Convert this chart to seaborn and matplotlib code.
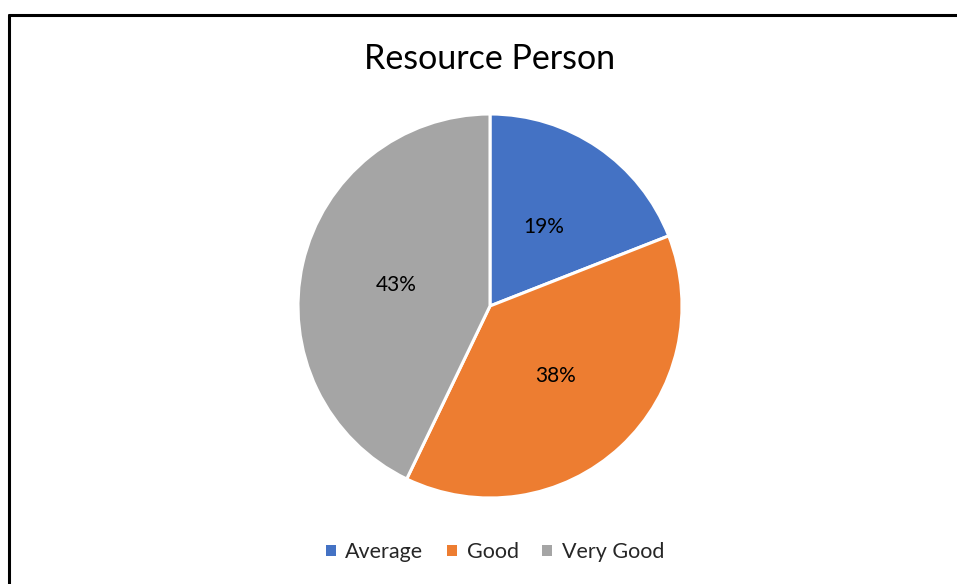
import matplotlib
matplotlib.use("Agg")
import matplotlib.pyplot as plt
import seaborn as sns
from matplotlib.lines import Line2D
from matplotlib.patches import Patch

# data (counts that give 19% / 38% / 43%)
categories = ["Average", "Good", "Very Good"]
counts = [4, 8, 9]
colors = ["#4472C4", "#ED7D31", "#A5A5A5"]
title = "Resource Person"

sns.set_theme(style="white")
plt.rcParams['font.family'] = ['Lato', 'DejaVu Sans']

W, H = 957, 584
fig = plt.figure(figsize=(W/100, H/100), dpi=100)
fig.patch.set_facecolor("white")

# pie centred at (490, 306) px, radius 192 px
cx, cy, r = 490, 306, 192
ax = fig.add_axes([(cx-r)/W, (H-cy-r)/H, 2*r/W, 2*r/H])
wedges, texts, autotexts = ax.pie(counts, colors=colors, startangle=90, counterclock=False,
                                  autopct="%1.0f%%", pctdistance=0.5,
                                  wedgeprops=dict(edgecolor="white", linewidth=2.2),
                                  textprops=dict(fontsize=15, color="black"))
ax.set_xlim(-1, 1)
ax.set_ylim(-1, 1)
ax.set_aspect("equal")
ax.axis("off")

fig.text(cx/W, 1-59/H, title, ha="center", va="center", fontsize=24.5, color="black")

handles = [Patch(facecolor=c, edgecolor="none") for c in colors]
fig.legend(handles, categories, loc="center", bbox_to_anchor=(495/W, 1-552/H), ncol=3,
           frameon=False, fontsize=15.5, handlelength=0.45, handleheight=0.45,
           handletextpad=0.45, columnspacing=1.1)

# chart border (left and top visible)
fig.add_artist(Line2D([9/W, 9/W], [0, 1-15/H], color="black", lw=2.2))
fig.add_artist(Line2D([9/W, 1], [1-15/H, 1-15/H], color="black", lw=2.2))

fig.savefig("out.png", dpi=100)
